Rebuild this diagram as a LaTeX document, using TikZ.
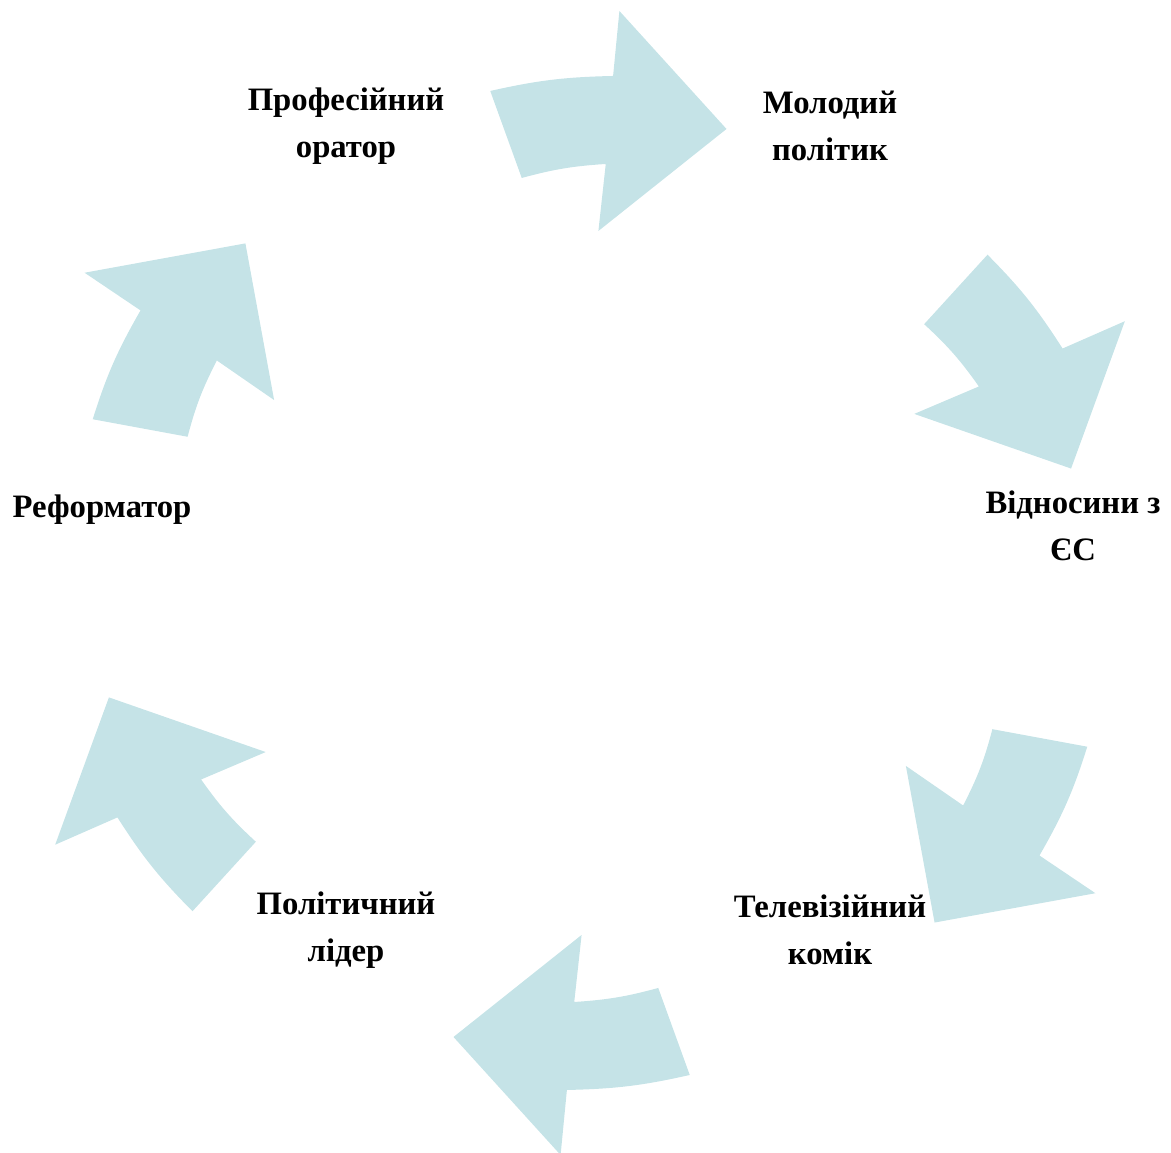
\documentclass[tikz,border=0pt]{standalone}
\usepackage{fontspec}
\setmainfont{Liberation Serif}
\usepackage{tikz}
\usetikzlibrary{calc,positioning}
\definecolor{arrowfill}{RGB}{197,227,231}

\begin{document}
\begin{tikzpicture}[
  stage/.style={font=\fontsize{9.3}{13.4}\selectfont\bfseries, align=center, inner sep=0pt},
  cyclearrow/.style={fill=arrowfill, draw=none}
]
\useasboundingbox (0,0) rectangle (11.71,11.53);
\coordinate (hub) at (5.90,5.70);
% six curved arrows, one rotated copy per step
\foreach \a in {0,-60,-120,-180,-240,-300}{
  \begin{scope}[shift={(hub)}, xscale=1.05, rotate=\a]
    \fill[cyclearrow] (-0.95,4.92) to[bend left=6] (0.22,5.07) -- (0.28,5.72)
      -- (1.30,4.54) -- (0.08,3.52) -- (0.15,4.19) to[bend right=6] (-0.65,4.05) -- cycle;
  \end{scope}
}
\node[stage] (prof) at (3.46,10.27) {Професійний\\оратор};
\node[stage] (mol) at (8.30,10.27) {Молодий\\політик};
\node[stage] (vid) at (10.73,6.27) {Відносини з\\ЄС};
\node[stage] (tel) at (8.30,2.23) {Телевізійний\\комік};
\node[stage] (pol) at (3.46,2.23) {Політичний\\лідер};
\node[stage] (ref) at (1.02,6.43) {Реформатор};
\end{tikzpicture}
\end{document}
